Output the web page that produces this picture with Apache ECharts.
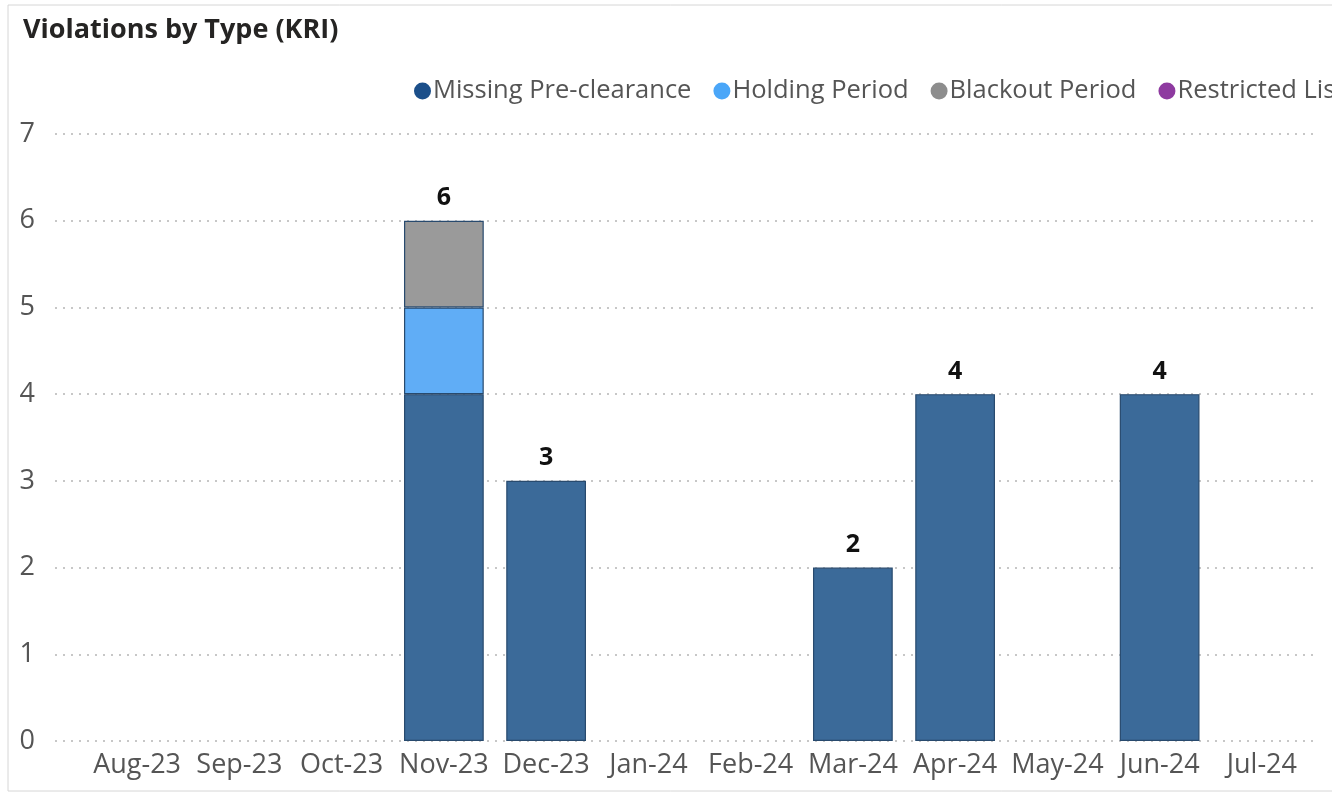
<!DOCTYPE html>
<html>
<head>
<meta charset="utf-8">
<script src="https://cdn.jsdelivr.net/npm/echarts@6/dist/echarts.min.js"></script>
<style>
  html, body { margin: 0; padding: 0; background: #fff; }
  #chart { width: 1332px; height: 798px; }
</style>
</head>
<body>
<div id="chart"></div>
<script>
  const months = ["Aug-23", "Sep-23", "Oct-23", "Nov-23", "Dec-23", "Jan-24", "Feb-24", "Mar-24", "Apr-24", "May-24", "Jun-24", "Jul-24"]
  const missingPreclearance = [0, 0, 0, 4, 3, 0, 0, 2, 4, 0, 4, 0]
  const holdingPeriod = [0, 0, 0, 1, 0, 0, 0, 0, 0, 0, 0, 0]
  const blackoutPeriod = [0, 0, 0, 1, 0, 0, 0, 0, 0, 0, 0, 0]
  const restrictedList = [0, 0, 0, 0, 0, 0, 0, 0, 0, 0, 0, 0]
  const yTicks = [0, 1, 2, 3, 4, 5, 6, 7]

  const totals = months.map((m, i) => missingPreclearance[i] + holdingPeriod[i] + blackoutPeriod[i] + restrictedList[i])
  const font = "'Open Sans', 'Noto Sans', sans-serif"

  function barSeries(name, data, color) {
    return {
      name: name,
      type: "bar",
      stack: "total",
      xAxisIndex: 1,
      yAxisIndex: 1,
      barWidth: "78%",
      data: data.map(v => v === 0 ? null : v),
      itemStyle: {color: color, borderColor: "#284a6e", borderWidth: 1.2}
    }
  }

  const series = [
    barSeries("Missing Pre-clearance", missingPreclearance, "#3b6a99"),
    barSeries("Holding Period", holdingPeriod, "#60adf6"),
    barSeries("Blackout Period", blackoutPeriod, "#9a9a9a"),
    barSeries("Restricted List", restrictedList, "#8e3aa0"),
    {
      name: "total",
      type: "bar",
      stack: "total",
      xAxisIndex: 1,
      yAxisIndex: 1,
      barWidth: "78%",
      data: restrictedList.map(() => 0),
      itemStyle: {color: "transparent"},
      label: {
        show: true,
        position: "top",
        distance: 10,
        fontFamily: font,
        fontSize: 25,
        fontWeight: "bold",
        color: "#111",
        formatter: p => totals[p.dataIndex] ? String(totals[p.dataIndex]) : ""
      },
      tooltip: {show: false}
    }
  ]

  const option = {
    animation: false,
    textStyle: {fontFamily: font},
    title: {
      text: "Violations by Type (KRI)",
      left: 18,
      top: 12,
      textStyle: {fontFamily: font, fontSize: 27, fontWeight: "bold", color: "#252423"}
    },
    legend: {
      left: 409,
      top: 73,
      width: 3000,
      icon: "circle",
      itemWidth: 17,
      itemHeight: 17,
      itemGap: 22,
      textStyle: {fontFamily: font, fontSize: 25.5, color: "#555", padding: [0, 0, 0, -3]},
      data: [
        {name: "Missing Pre-clearance", itemStyle: {color: "#1b4f8a", borderWidth: 0}},
        {name: "Holding Period", itemStyle: {color: "#4aa6f8", borderWidth: 0}},
        {name: "Blackout Period", itemStyle: {color: "#8d8d8d", borderWidth: 0}},
        {name: "Restricted List", itemStyle: {color: "#8e3aa0", borderWidth: 0}}
      ]
    },
    graphic: [{
      type: "rect",
      shape: {x: 8, y: 5, width: 1400, height: 786},
      style: {fill: "none", stroke: "#d6d6d6", lineWidth: 1},
      silent: true,
      z: -10
    }],
    grid: [
      {left: 55, right: 19, top: 134, bottom: 57},
      {left: 86, right: 19, top: 134, bottom: 57}
    ],
    xAxis: [
      {gridIndex: 0, type: "value", min: 0, max: 1, show: false},
      {
        gridIndex: 1,
        type: "category",
        data: months,
        axisLine: {show: false},
        axisTick: {show: false},
        axisLabel: {interval: 0, margin: 11, fontFamily: font, fontSize: 27, color: "#555"}
      }
    ],
    yAxis: [
      {
        gridIndex: 0,
        type: "value",
        min: yTicks[0],
        max: yTicks[yTicks.length - 1],
        interval: 1,
        axisLine: {show: false},
        axisTick: {show: false},
        axisLabel: {margin: 20, fontFamily: font, fontSize: 27, color: "#555"},
        splitLine: {lineStyle: {color: "#b5b5b5", type: [2, 6], width: 1.5}}
      },
      {
        gridIndex: 1,
        type: "value",
        min: yTicks[0],
        max: yTicks[yTicks.length - 1],
        interval: 1,
        show: false,
        splitLine: {show: false}
      }
    ],
    series: series
  }

  const myChart = echarts.init(document.getElementById("chart"))
  myChart.setOption(option)
</script>
</body>
</html>
